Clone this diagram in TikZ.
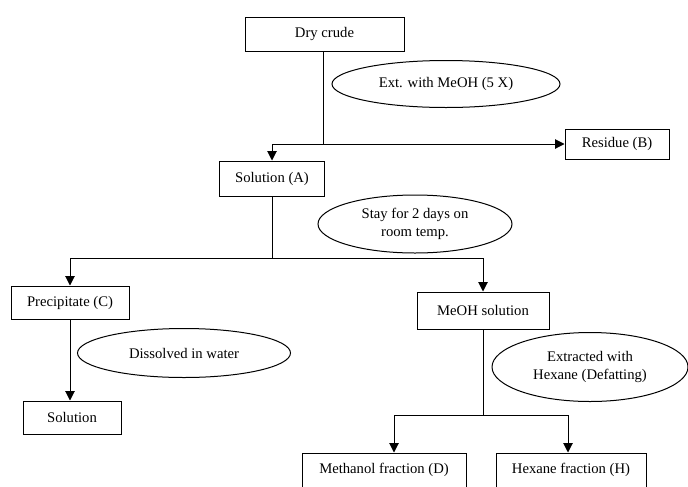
\documentclass[tikz,border=0pt]{standalone}
\usepackage{fontspec}
\setmainfont{Liberation Serif}
\usetikzlibrary{arrows.meta,positioning,shapes.geometric}

\begin{document}
\begin{tikzpicture}[
  x=0.75pt,y=-0.75pt,
  font=\fontsize{11}{13}\selectfont,
  line width=0.75pt,
  stage/.style={draw,rectangle,inner sep=0pt,align=center},
  treat/.style={draw,ellipse,inner sep=0pt,align=center},
  flow/.style={-{Triangle[length=7pt,width=7pt]}},
]
\useasboundingbox (0,0) rectangle (688,486);

% extraction
\node[stage,minimum width=119.25pt,minimum height=25.5pt] (crude) at (324.5,34) {Dry crude};
\node[treat,minimum width=171pt,minimum height=35.25pt] (ext) at (446,84) {Ext. with MeOH (5 X)};
\node[stage,minimum width=78pt,minimum height=22.5pt] (residue) at (617,144) {Residue (B)};
\node[stage,minimum width=78.75pt,minimum height=26.25pt] (solA) at (272,178.5) {Solution (A)};

% standing
\node[treat,minimum width=145.5pt,minimum height=43.5pt] (stay) at (415,224) {Stay for 2 days on\\room temp.};
\node[stage,minimum width=88.5pt,minimum height=24.75pt] (precip) at (70,302.5) {Precipitate (C)};
\node[treat,minimum width=159.75pt,minimum height=36.75pt] (dissolve) at (184,353) {Dissolved in water};
\node[stage,minimum width=73.5pt,minimum height=24.75pt] (sol) at (72,417.5) {Solution};
\node[stage,minimum width=99pt,minimum height=27.75pt] (meoh) at (483,310.5) {MeOH solution};

% defatting
\node[treat,minimum width=147pt,minimum height=51.75pt] (defat) at (590,367) {Extracted with\\Hexane (Defatting)};
\node[stage,minimum width=123pt,minimum height=25.5pt] (methanol) at (384,470) {Methanol fraction (D)};
\node[stage,minimum width=112.5pt,minimum height=25.5pt] (hexane) at (571,470) {Hexane fraction (H)};

\coordinate (j1) at (323,144);
\coordinate (j2) at (272,258);
\coordinate (j3) at (483,415);

\draw (crude.south -| j1) -- (j1);
\draw[flow] (j1) -| (solA.north);
\draw[flow] (j1) -- (residue.west);

\draw (solA.south) -- (j2);
\draw[flow] (j2) -| (precip.north);
\draw[flow] (j2) -| (meoh.north);
\draw[flow] (precip.south) -- (precip.south |- sol.north);

\draw (meoh.south) -- (j3);
\draw[flow] (j3) -| ([xshift=7.5pt]methanol.north);
\draw[flow] (j3) -| ([xshift=-2.25pt]hexane.north);
\end{tikzpicture}
\end{document}
